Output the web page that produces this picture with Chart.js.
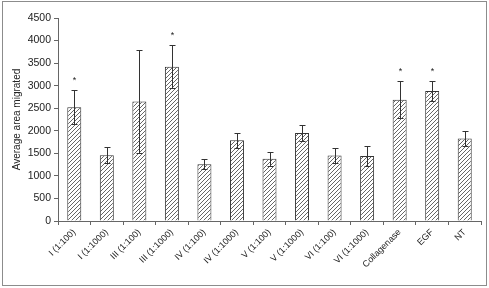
<!DOCTYPE html>
<html>
<head>
<meta charset="utf-8">
<script src="https://cdn.jsdelivr.net/npm/chart.js@4.4.1/dist/chart.umd.min.js"></script>
<style>
  html, body { margin: 0; padding: 0; background: #fff; }
  #wrap { width: 489px; height: 288px; position: relative; }
</style>
</head>
<body>
<div id="wrap"><canvas id="chart" width="489" height="288"></canvas></div>
<script>
// treatment groups along the x axis
const categories = ['I (1:100)', 'I (1:1000)', 'III (1:100)', 'III (1:1000)', 'IV (1:100)', 'IV (1:1000)',
  'V (1:100)', 'V (1:1000)', 'VI (1:100)', 'VI (1:1000)', 'Collagenase', 'EGF', 'NT'];
const meanArea = [2520, 1460, 2650, 3420, 1260, 1790, 1380, 1950, 1450, 1440, 2690, 2880, 1830];
const errArea = [380, 180, 1140, 480, 115, 170, 155, 180, 165, 220, 415, 230, 175];
const significant = [true, false, false, true, false, false, false, false, false, false, true, true, false];
const yTicks = [0, 500, 1000, 1500, 2000, 2500, 3000, 3500, 4000, 4500];

const FONT = '"Liberation Sans", Arial, sans-serif';

function hatch() {
  const c = document.createElement('canvas');
  c.width = 4; c.height = 4;
  const g = c.getContext('2d');
  g.fillStyle = '#fff';
  g.fillRect(0, 0, 4, 4);
  g.strokeStyle = '#555';
  g.lineWidth = 0.9;
  g.beginPath();
  g.moveTo(0, 4); g.lineTo(4, 0);
  g.moveTo(-1, 1); g.lineTo(1, -1);
  g.moveTo(3, 5); g.lineTo(5, 3);
  g.stroke();
  return document.getElementById('chart').getContext('2d').createPattern(c, 'repeat');
}

const frame = {
  id: 'frame',
  beforeDraw(chart) {
    const ctx = chart.ctx;
    ctx.save();
    ctx.fillStyle = '#fff';
    ctx.fillRect(0, 0, chart.width, chart.height);
    ctx.strokeStyle = '#8c8c8c';
    ctx.lineWidth = 1;
    ctx.strokeRect(2.5, 1.5, 484, 284);
    ctx.restore();
  }
};

const errorBars = {
  id: 'errorBars',
  afterDatasetsDraw(chart) {
    const ctx = chart.ctx;
    const x = chart.scales.x, y = chart.scales.y;
    ctx.save();
    ctx.strokeStyle = '#333';
    ctx.lineWidth = 1;
    ctx.fillStyle = '#222';
    ctx.font = '9px ' + FONT;
    ctx.textAlign = 'center';
    meanArea.forEach((v, i) => {
      const px = Math.round(x.getPixelForValue(i)) + 0.5;
      const top = Math.round(y.getPixelForValue(v + errArea[i])) + 0.5;
      const bot = Math.round(y.getPixelForValue(v - errArea[i])) + 0.5;
      ctx.beginPath();
      ctx.moveTo(px, top); ctx.lineTo(px, bot);
      ctx.moveTo(px - 3, top); ctx.lineTo(px + 3, top);
      ctx.moveTo(px - 3, bot); ctx.lineTo(px + 3, bot);
      ctx.stroke();
      if (significant[i]) {
        ctx.fillText('*', px, top - 8);
      }
    });
    ctx.restore();
  }
};

new Chart(document.getElementById('chart'), {
  type: 'bar',
  data: {
    labels: categories,
    datasets: [{
      data: meanArea,
      backgroundColor: hatch(),
      borderColor: '#333',
      borderWidth: 1,
      barPercentage: 0.43,
      categoryPercentage: 1
    }]
  },
  options: {
    responsive: false,
    animation: false,
    layout: { padding: { top: 18, right: 8, left: 11, bottom: 0 } },
    plugins: { legend: { display: false }, tooltip: { enabled: false } },
    scales: {
      y: {
        min: 0, max: 4500,
        afterBuildTicks(scale) { scale.ticks = yTicks.map(v => ({ value: v })); },
        afterFit(scale) { scale.width = 47; },
        grid: { drawOnChartArea: false, tickLength: 4, color: '#666' },
        border: { color: '#666' },
        ticks: { color: '#222', padding: 3, callback: v => String(v), font: { size: 10.5, family: FONT } },
        title: { display: true, text: 'Average area migrated', color: '#222', padding: 0,
          font: { size: 10, family: FONT } }
      },
      x: {
        afterFit(scale) { scale.height = 67; },
        grid: { drawOnChartArea: false, tickLength: 4, color: '#666', offset: true },
        border: { color: '#666' },
        ticks: { color: '#222', minRotation: 45, maxRotation: 45, autoSkip: false, padding: 2,
          font: { size: 9, family: FONT } }
      }
    }
  },
  plugins: [frame, errorBars]
});
</script>
</body>
</html>
